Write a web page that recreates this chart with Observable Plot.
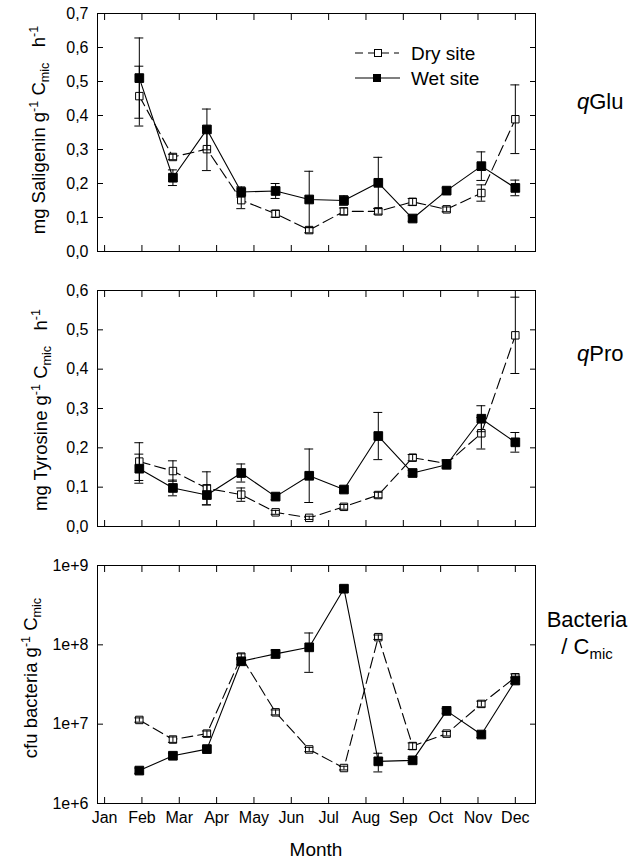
<!DOCTYPE html>
<html>
<head>
<meta charset="utf-8">
<script src="https://cdn.jsdelivr.net/npm/d3@7"></script>
<script src="https://cdn.jsdelivr.net/npm/@observablehq/plot@0.6"></script>
<style>
  body { margin: 0; background: #fff; }
  #chart { position: relative; width: 634px; height: 863px; background: #fff; font-family: "Liberation Sans", Arial, Helvetica, sans-serif; color: #000; }
  #chart svg.plot { position: absolute; left: 0; }
  .ytitle { position: absolute; white-space: nowrap; font-size: 18.5px; transform: translate(-50%, -50%) rotate(-90deg); line-height: 1; }
  .ytitle sup, .ytitle sub, .rlab sub { font-size: 0.68em; line-height: 0; }
  .rlab { position: absolute; font-size: 22px; line-height: 27px; white-space: nowrap; }
  .xtitle { position: absolute; font-size: 19px; transform: translateX(-50%); white-space: nowrap; }
  .legtext { position: absolute; font-size: 19px; white-space: nowrap; line-height: 1; }
</style>
</head>
<body>
<div id="chart"></div>
<script>
// ---------- data ----------
const months = ["Jan","Feb","Mar","Apr","May","Jun","Jul","Aug","Sep","Oct","Nov","Dec"];
const monthTicks = [1,2,3,4,5,6,7,8,9,10,11,12];
// sampling dates expressed as fractional month (Jan = 1)
const sampleMonth = [1.93, 2.83, 3.74, 4.66, 5.58, 6.48, 7.41, 8.33, 9.25, 10.16, 11.09, 12.0];

// qGlu (mg Saligenin g-1 Cmic h-1)
const gluDry    = [0.457, 0.278, 0.301, 0.151, 0.111, 0.063, 0.118, 0.118, 0.146, 0.124, 0.172, 0.389];
const gluDryErr = [0.088, 0.008, 0.063, 0.025, 0.010, 0.008, 0.010, 0.008, 0.010, 0.007, 0.024, 0.101];
const gluWet    = [0.510, 0.217, 0.359, 0.175, 0.178, 0.153, 0.150, 0.202, 0.097, 0.179, 0.251, 0.187];
const gluWetErr = [0.118, 0.023, 0.060, 0.015, 0.022, 0.083, 0.014, 0.075, 0.008, 0.008, 0.042, 0.023];

// qPro (mg Tyrosine g-1 Cmic h-1)
const proDry    = [0.165, 0.141, 0.097, 0.081, 0.036, 0.022, 0.050, 0.080, 0.175, 0.160, 0.237, 0.486];
const proDryErr = [0.048, 0.026, 0.042, 0.017, 0.005, 0.004, 0.006, 0.007, 0.008, 0.010, 0.040, 0.097];
const proWet    = [0.147, 0.098, 0.080, 0.136, 0.076, 0.129, 0.094, 0.230, 0.136, 0.157, 0.274, 0.214];
const proWetErr = [0.037, 0.020, 0.025, 0.023, 0.008, 0.068, 0.006, 0.060, 0.007, 0.010, 0.033, 0.025];

// Bacteria / Cmic (cfu bacteria g-1 Cmic)
const bacDry    = [1.13e7, 6.4e6, 7.6e6, 7.1e7, 1.41e7, 4.8e6, 2.8e6, 1.25e8, 5.3e6, 7.6e6, 1.8e7, 3.9e7];
const bacDryErr = [0.7e6, 0.5e6, 0.6e6, 0.6e7, 1.0e6, 0.3e6, 0.15e6, 0.8e7, 0.5e6, 0.5e6, 1.5e6, 4e6];
const bacWet    = [2.6e6, 4.0e6, 4.85e6, 6.2e7, 7.7e7, 9.3e7, 5.1e8, 3.4e6, 3.5e6, 1.47e7, 7.4e6, 3.55e7];
const bacWetErr = [0.2e6, 0.3e6, 0.3e6, 0.6e7, 0.9e7, 4.8e7, 0.4e8, 0.9e6, 0.2e6, 1.0e6, 0.6e6, 3e6];

// tick values and labels
const gluTicks = [0, 0.1, 0.2, 0.3, 0.4, 0.5, 0.6, 0.7];
const gluTickLabels = ["0,0","0,1","0,2","0,3","0,4","0,5","0,6","0,7"];
const proTicks = [0, 0.1, 0.2, 0.3, 0.4, 0.5, 0.6];
const proTickLabels = ["0,0","0,1","0,2","0,3","0,4","0,5","0,6"];
const bacTicks = [1e6, 1e7, 1e8, 1e9];
const bacTickLabels = ["1e+6","1e+7","1e+8","1e+9"];

const seriesNames = ["Dry site", "Wet site"];

// ---------- drawing ----------
const chart = document.getElementById("chart");
const FONT = '"Liberation Sans", Arial, Helvetica, sans-serif';
const W = 634, ML = 97, MR = 99;
const CAP = 0.12; // cap half width in month units

function rows(vals, errs) {
  return vals.map((v, i) => ({x: sampleMonth[i], v, lo: v - errs[i], hi: v + errs[i]}));
}

function panel({top, height, marginTop, marginBottom, yScale, ticks, tickLabels, dry, dryErr, wet, wetErr, xLabels}) {
  const d = rows(dry, dryErr), w = rows(wet, wetErr);
  const fmt = t => tickLabels[ticks.indexOf(t)];
  const marks = [
    Plot.frame({stroke: "#000", strokeWidth: 1}),
    Plot.axisY(ticks, {anchor: "left", tickSize: 6, dx: 6, tickFormat: () => "", label: null}),
    Plot.axisY(ticks, {anchor: "right", tickSize: 6, dx: -6, tickFormat: () => "", label: null}),
    Plot.axisY(ticks, {anchor: "left", tickSize: 0, tickPadding: 9, tickFormat: fmt, label: null, fontSize: 16}),
    Plot.axisX(monthTicks, {anchor: "bottom", tickSize: 6, dy: -6, tickFormat: () => "", label: null}),
    Plot.axisX(monthTicks, {anchor: "top", tickSize: 6, dy: 6, tickFormat: () => "", label: null}),
    Plot.line(d, {x: "x", y: "v", stroke: "#000", strokeWidth: 1.1, strokeDasharray: "11,5"}),
    Plot.line(w, {x: "x", y: "v", stroke: "#000", strokeWidth: 1.1}),
    Plot.dot(d, {x: "x", y: "v", symbol: "square", r: 4.2, fill: "#fff", stroke: "#000", strokeWidth: 1}),
    Plot.dot(w, {x: "x", y: "v", symbol: "square", r: 4.9, fill: "#000", stroke: "#000", strokeWidth: 1}),
  ];
  for (const s of [d, w]) {
    marks.push(
      Plot.ruleX(s, {x: "x", y1: "lo", y2: "hi", stroke: "#000", strokeWidth: 1}),
      Plot.ruleY(s, {y: "hi", x1: r => r.x - CAP, x2: r => r.x + CAP, stroke: "#000", strokeWidth: 1}),
      Plot.ruleY(s, {y: "lo", x1: r => r.x - CAP, x2: r => r.x + CAP, stroke: "#000", strokeWidth: 1})
    );
  }
  if (xLabels) {
    marks.push(Plot.axisX(monthTicks, {anchor: "bottom", tickSize: 0, tickPadding: 8, tickFormat: t => months[t - 1], label: null, fontSize: 16}));
  }
  const svg = Plot.plot({
    width: W, height, marginLeft: ML, marginRight: MR, marginTop, marginBottom,
    style: {fontFamily: FONT, fontSize: "16px", color: "#000", background: "transparent", overflow: "visible"},
    x: {domain: [0.81, 12.54]},
    y: yScale,
    marks
  });
  svg.classList.add("plot");
  svg.style.top = top + "px";
  chart.appendChild(svg);
}

panel({top: 0, height: 265, marginTop: 13, marginBottom: 14,
  yScale: {domain: [0, 0.7]}, ticks: gluTicks, tickLabels: gluTickLabels,
  dry: gluDry, dryErr: gluDryErr, wet: gluWet, wetErr: gluWetErr});
panel({top: 270, height: 270, marginTop: 20, marginBottom: 14,
  yScale: {domain: [0, 0.6]}, ticks: proTicks, tickLabels: proTickLabels,
  dry: proDry, dryErr: proDryErr, wet: proWet, wetErr: proWetErr});
panel({top: 545, height: 300, marginTop: 20, marginBottom: 42,
  yScale: {type: "log", domain: [1e6, 1e9]}, ticks: bacTicks, tickLabels: bacTickLabels,
  dry: bacDry, dryErr: bacDryErr, wet: bacWet, wetErr: bacWetErr, xLabels: true});

// legend (inside top panel)
const leg = d3.create("svg").attr("width", 60).attr("height", 40)
  .style("position", "absolute").style("left", "350px").style("top", "43px");
leg.append("line").attr("x1", 5).attr("x2", 49).attr("y1", 10).attr("y2", 10)
  .attr("stroke", "#000").attr("stroke-width", 1.1).attr("stroke-dasharray", "8,5");
leg.append("rect").attr("x", 24.5).attr("y", 6.5).attr("width", 7).attr("height", 7)
  .attr("fill", "#fff").attr("stroke", "#000");
leg.append("line").attr("x1", 5).attr("x2", 50).attr("y1", 35).attr("y2", 35)
  .attr("stroke", "#000").attr("stroke-width", 1.1);
leg.append("rect").attr("x", 23).attr("y", 31).attr("width", 8).attr("height", 8).attr("fill", "#000");
chart.appendChild(leg.node());

function addDiv(cls, html, styles) {
  const el = document.createElement("div");
  el.className = cls;
  el.innerHTML = html;
  Object.assign(el.style, styles);
  chart.appendChild(el);
  return el;
}
addDiv("legtext", seriesNames[0], {left: "411px", top: "44px"});
addDiv("legtext", seriesNames[1], {left: "411px", top: "69px"});

// y titles
addDiv("ytitle", "mg Saligenin g<sup>-1</sup> C<sub>mic</sub>&nbsp;&nbsp; h<sup>-1</sup>", {left: "39px", top: "130px"});
addDiv("ytitle", "mg Tyrosine g<sup>-1</sup> C<sub>mic</sub>&nbsp;&nbsp; h<sup>-1</sup>", {left: "41px", top: "410px"});
addDiv("ytitle", "cfu bacteria g<sup>-1</sup> C<sub>mic</sub>", {left: "31px", top: "678px"});

// right-hand labels
addDiv("rlab", "<i>q</i>Glu", {left: "577px", top: "88px"});
addDiv("rlab", "<i>q</i>Pro", {left: "577px", top: "340px"});
addDiv("rlab", "Bacteria<br>/ C<sub>mic</sub>", {left: "540px", width: "94px", textAlign: "center", top: "606px"});

// x title
addDiv("xtitle", "Month", {left: "316px", top: "839px"});
</script>
</body>
</html>
